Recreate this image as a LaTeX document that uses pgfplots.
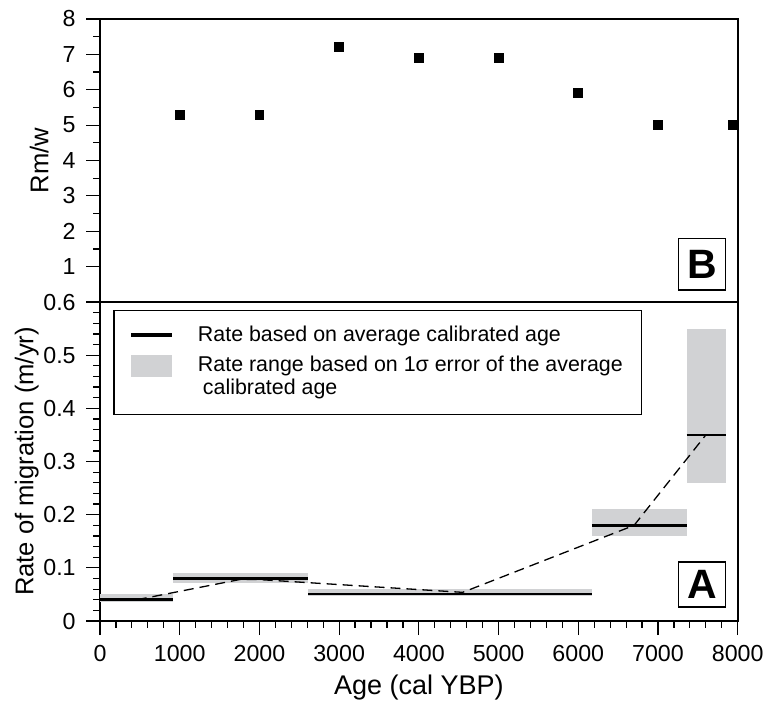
\documentclass[border=0pt]{standalone}
\usepackage{pgfplots}
\pgfplotsset{compat=1.18}
\usepackage{fontspec}
\setmainfont{Liberation Sans}
\definecolor{bandgray}{RGB}{209,210,212}

\begin{document}
\begin{tikzpicture}
\pgfplotsset{
  panel/.style={
    scale only axis, width=318.8pt,
    xmin=0, xmax=8000,
    axis line style={line width=0.8pt},
    tick style={black, line width=0.6pt},
    tick align=outside,
    major tick length=7pt, minor tick length=3.4pt,
    ytick pos=left, xtick pos=bottom,
    /pgf/number format/assume math mode=true,
    /pgf/number format/1000 sep={},
    xticklabel={\fontsize{11.6}{13}\selectfont\pgfmathprintnumber{\tick}},
    yticklabel={\fontsize{11.6}{13}\selectfont\pgfmathprintnumber{\tick}},
    xticklabel style={anchor=north, inner sep=0pt, yshift=-4.7pt},
    yticklabel style={anchor=east, inner sep=0pt, xshift=-5pt},
  },
}
% panel B
\begin{axis}[panel, name=top, height=141.5pt,
  ymin=0, ymax=8, ytick={1,2,3,4,5,6,7,8}, minor y tick num=1,
  xtick=\empty,
  ylabel={Rm/w},
  ylabel style={at={(axis description cs:-0.081,0.5)}, anchor=base, font=\fontsize{12.8}{15}\selectfont},
]
\addplot[only marks, mark=square*, mark size=2.2pt, black] coordinates {
  (1000,5.3) (2000,5.3) (3000,7.2) (4000,6.9) (5000,6.9) (6000,5.9) (7000,5.0) (7940,5.0)
};
\node[draw, line width=0.6pt, font=\fontsize{20.5}{24}\bfseries\selectfont,
  minimum width=23.2pt, minimum height=25.7pt, inner sep=0pt, anchor=south east]
  at ([xshift=-6pt,yshift=5.7pt]rel axis cs:1,0) {B};
\end{axis}

% panel A
\begin{axis}[panel, name=bot, at={(top.south west)}, anchor=north west, height=159.5pt,
  ymin=0, ymax=0.6, ytick={0,0.1,0.2,0.3,0.4,0.5,0.6}, minor y tick num=4,
  xtick={0,1000,2000,3000,4000,5000,6000,7000,8000}, minor x tick num=4,
  yticklabel style={/pgf/number format/fixed, /pgf/number format/precision=1},
  xlabel={Age (cal YBP)},
  xlabel style={at={(axis description cs:0.5,-0.2288)}, anchor=base, font=\fontsize{13.5}{16}\selectfont},
  ylabel={Rate of migration (m/yr)},
  ylabel style={at={(axis description cs:-0.1046,0.5)}, anchor=base, font=\fontsize{12.8}{15}\selectfont},
  legend cell align=left,
  legend style={at={(axis description cs:0.0209,0.9749)}, anchor=north west,
    draw=black, line width=0.6pt, fill=white,
    font=\fontsize{10.7}{12.8}\selectfont,
    inner xsep=8.7pt, inner ysep=7pt,
    nodes={inner sep=0.5pt, text depth=},
    cells={anchor=base west},
    row sep=0.7pt,
    /tikz/every odd column/.append style={column sep=12.6pt}},
]
% 1 sigma ranges
\addplot[fill=bandgray, draw=none, forget plot] coordinates {(0,0.036) (920,0.036) (920,0.050) (0,0.050)};
\addplot[fill=bandgray, draw=none, forget plot] coordinates {(920,0.071) (2615,0.071) (2615,0.090) (920,0.090)};
\addplot[fill=bandgray, draw=none, forget plot] coordinates {(2615,0.048) (6170,0.048) (6170,0.061) (2615,0.061)};
\addplot[fill=bandgray, draw=none, forget plot] coordinates {(6170,0.160) (7360,0.160) (7360,0.210) (6170,0.210)};
\addplot[fill=bandgray, draw=none, forget plot] coordinates {(7360,0.260) (7850,0.260) (7850,0.549) (7360,0.549)};
% trend
\addplot[black, line width=0.65pt, dash pattern=on 5pt off 3pt, forget plot] coordinates {
  (460,0.040) (1750,0.078) (2000,0.078) (4550,0.054) (6700,0.180) (7600,0.350)
};
% rates
\addplot[black, line width=1.4pt, forget plot] coordinates {(0,0.041) (920,0.041)};
\addplot[black, line width=1.4pt, forget plot] coordinates {(920,0.080) (2615,0.080)};
\addplot[black, line width=1.4pt, forget plot] coordinates {(2615,0.051) (6170,0.051)};
\addplot[black, line width=1.4pt, forget plot] coordinates {(6170,0.180) (7360,0.180)};
\addplot[black, line width=1.4pt, forget plot] coordinates {(7360,0.350) (7850,0.350)};
\addlegendimage{legend image code/.code={\fill[black] (0pt,2.2pt) rectangle (19.6pt,3.6pt);}}
\addlegendentry{Rate based on average calibrated age\rule[-5.6pt]{0pt}{5.6pt}}
\addlegendimage{legend image code/.code={\fill[bandgray] (0pt,-2.5pt) rectangle (19.6pt,8pt);}}
\addlegendentry{Rate range based on 1σ error of the average}
\addlegendimage{empty legend}
\addlegendentry{\hspace{2.5pt}calibrated age}
\node[draw, line width=0.6pt, font=\fontsize{20.5}{24}\bfseries\selectfont,
  minimum width=23.2pt, minimum height=22.5pt, inner sep=0pt, anchor=south east]
  at ([xshift=-6pt,yshift=6.7pt]rel axis cs:1,0) {A};
\end{axis}
\pgfresetboundingbox
\path ([xshift=-50pt,yshift=9.5pt]top.north west) rectangle ([xshift=15.15pt,yshift=-41pt]bot.south east);
\end{tikzpicture}
\end{document}
